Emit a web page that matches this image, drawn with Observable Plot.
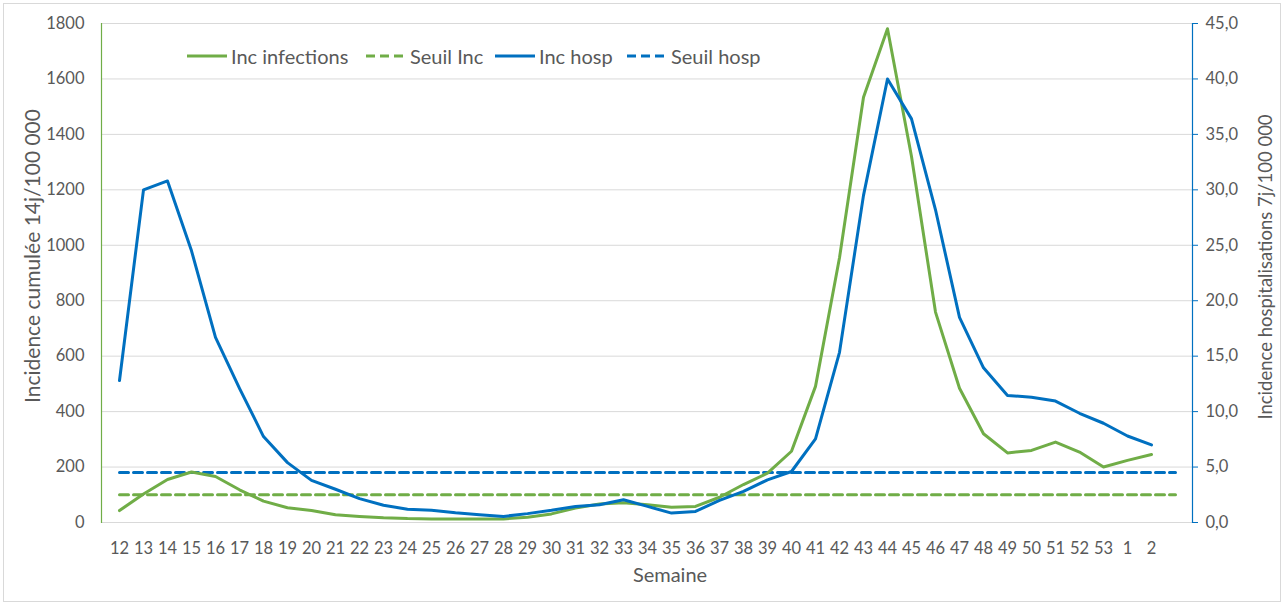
<!DOCTYPE html>
<html>
<head>
<meta charset="utf-8">
<script src="https://cdn.jsdelivr.net/npm/d3@7"></script>
<script src="https://cdn.jsdelivr.net/npm/@observablehq/plot@0.6"></script>
<style>
  body { margin: 0; background: #fff; font-family: Lato, "Open Sans", sans-serif; }
  #chart { position: relative; width: 1284px; height: 606px; overflow: hidden; }
  #chart > svg { position: absolute; left: 0; top: 0; }
  #border { position: absolute; left: 3px; top: 3px; width: 1276px; height: 597px; border: 1px solid #d9d9d9; pointer-events: none; }
  .item { position: absolute; top: 45px; height: 22px; display: flex; align-items: center; font-size: 20px; color: #595959; white-space: nowrap; }
  .item svg { display: block; margin-right: 4px; }
</style>
</head>
<body>
<div id="chart"><div id="border"></div></div>
<script>
// Semaines ISO (la dernière catégorie est vide mais porte encore les seuils)
const weeks = ["12","13","14","15","16","17","18","19","20","21","22","23","24","25","26","27","28","29","30","31","32","33","34","35","36","37","38","39","40","41","42","43","44","45","46","47","48","49","50","51","52","53","1","2",""];

// Incidence cumulée 14 jours / 100 000 (axe gauche)
const incInfections = [43,103,155,182,166,118,77,53,43,28,22,17,14,13,13,13,13,19,31,52,67,71,64,55,58,91,137,178,257,491,955,1534,1781,1320,759,484,320,251,260,290,254,200,224,245];

// Incidence des hospitalisations 7 jours / 100 000 (axe droit)
const incHosp = [12.8,30.0,30.8,24.5,16.7,12.1,7.75,5.4,3.8,3.0,2.15,1.55,1.2,1.1,0.87,0.7,0.55,0.8,1.1,1.45,1.6,2.05,1.45,0.85,1.0,2.0,2.8,3.85,4.6,7.55,15.35,29.5,40.0,36.4,28.2,18.5,13.95,11.45,11.3,10.95,9.85,8.95,7.8,7.0];

// Seuils d'alerte
const seuilInc = 100;
const seuilHosp = 4.5;

// Graduations
const leftTicks = [0,200,400,600,800,1000,1200,1400,1600,1800];
const rightTicks = [0,5,10,15,20,25,30,35,40,45];

const green = "#70AD47";
const blue = "#0070C0";
const grey = "#595959";
const font = "Lato, 'Open Sans', sans-serif";

// L'axe droit est ramené sur l'échelle de l'axe gauche
const ratio = d3.max(leftTicks) / d3.max(rightTicks);

const infRows = incInfections.map((v, i) => ({week: weeks[i], v}));
const hospRows = incHosp.map((v, i) => ({week: weeks[i], v: v * ratio}));
const seuilIncRows = weeks.map(w => ({week: w, v: seuilInc}));
const seuilHospRows = weeks.map(w => ({week: w, v: seuilHosp * ratio}));

const fmtRight = d => (d / ratio).toFixed(1).replace(".", ",");

const plot = Plot.plot({
  width: 1284,
  height: 606,
  marginLeft: 101,
  marginRight: 92,
  marginTop: 23,
  marginBottom: 84,
  style: {fontFamily: font, fontSize: "16.5px", color: grey, background: "transparent", overflow: "visible"},
  x: {type: "point", domain: weeks, padding: 0.5},
  y: {domain: [0, 1800]},
  marks: [
    Plot.gridY(leftTicks, {stroke: "#d9d9d9", strokeOpacity: 1, strokeWidth: 1}),
    Plot.axisY(leftTicks, {anchor: "left", tickSize: 0, tickPadding: 17, tickFormat: d => String(d), label: null, fill: grey}),
    Plot.axisY(rightTicks.map(v => v * ratio), {anchor: "right", tickSize: 5, tickPadding: 8, tickFormat: fmtRight, label: null, stroke: blue, fill: grey}),
    Plot.axisX({anchor: "bottom", tickSize: 0, tickPadding: 20, label: null, fill: grey}),
    Plot.frame({anchor: "left", stroke: green, strokeWidth: 1.2}),
    Plot.frame({anchor: "right", stroke: blue, strokeWidth: 1.2}),
    Plot.lineY(seuilIncRows, {x: "week", y: "v", stroke: green, strokeWidth: 3, strokeDasharray: "9,5"}),
    Plot.lineY(seuilHospRows, {x: "week", y: "v", stroke: blue, strokeWidth: 3, strokeDasharray: "9,5"}),
    Plot.lineY(infRows, {x: "week", y: "v", stroke: green, strokeWidth: 3, strokeLinejoin: "round"}),
    Plot.lineY(hospRows, {x: "week", y: "v", stroke: blue, strokeWidth: 3, strokeLinejoin: "round"}),
    Plot.text(["Incidence cumulée 14j/100 000"], {frameAnchor: "left", textAnchor: "middle", rotate: -90, dx: -68, dy: -17, fill: grey, fontSize: 21}),
    Plot.text(["Incidence hospitalisations 7j/100 000"], {frameAnchor: "right", textAnchor: "middle", rotate: -90, dx: 74, dy: -6, fill: grey, fontSize: 18.5}),
    Plot.text(["Semaine"], {frameAnchor: "bottom", textAnchor: "middle", dy: 59, dx: 23, fill: grey, fontSize: 20})
  ]
});

const chart = document.getElementById("chart");
chart.insertBefore(plot, chart.firstChild);

// Légende
const legend = [
  {label: "Inc infections", color: green, dash: null, left: 187},
  {label: "Seuil Inc", color: green, dash: "9,5", left: 366},
  {label: "Inc hosp", color: blue, dash: null, left: 495},
  {label: "Seuil hosp", color: blue, dash: "9,5", left: 627}
];
for (const d of legend) {
  const div = document.createElement("div");
  div.className = "item";
  div.style.left = d.left + "px";
  div.innerHTML = `<svg width="40" height="20"><line x1="0" x2="40" y1="10" y2="10" stroke="${d.color}" stroke-width="3" ${d.dash ? `stroke-dasharray="${d.dash}"` : ""}/></svg><span>${d.label}</span>`;
  chart.appendChild(div);
}
</script>
</body>
</html>
